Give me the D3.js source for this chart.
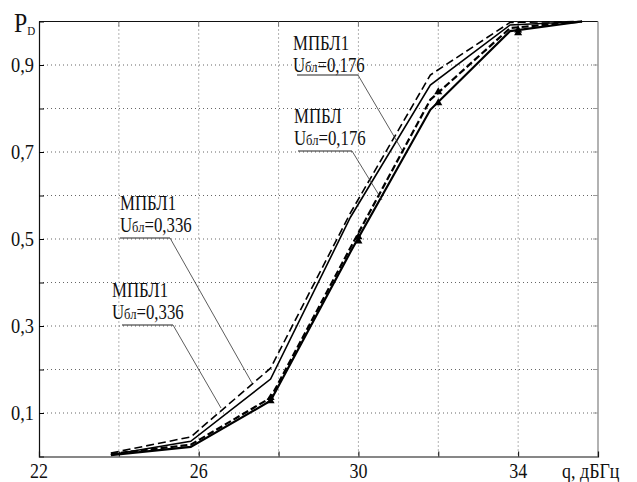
<!DOCTYPE html>
<html>
<head>
<meta charset="utf-8">
<script src="https://cdn.jsdelivr.net/npm/d3@7"></script>
<style>
  html, body { margin: 0; padding: 0; background: #fff; }
</style>
</head>
<body>
<svg id="chart" width="637" height="482"></svg>
<script>
// Signal-to-noise values, dB·Hz
const q = [23.8, 25.8, 27.8, 29.8, 31.8, 33.8, 35.6];
// Detection probability P_D for each variant
const pUpperDashed = [0.008, 0.045, 0.203, 0.56, 0.877, 0.998, 1.0];
const pUpperSolid  = [0.004, 0.035, 0.178, 0.55, 0.854, 0.992, 1.0];
const pLowerDashed = [0.006, 0.027, 0.135, 0.48, 0.82, 0.985, 1.0];
const pLowerSolid  = [0.003, 0.022, 0.128, 0.47, 0.797, 0.978, 1.0];
// Marked points on the lower pair of curves
const qMarks = [27.8, 30, 32, 34];
const markLowerDashed = [0.135, 0.505, 0.838, 0.98];
const markLowerSolid  = [0.128, 0.495, 0.813, 0.974];

const xTickLabels = [22, 26, 30, 34];
const xGrid = [24, 26, 28, 30, 32, 34];
const yTickLabels = ["0,1", "0,3", "0,5", "0,7", "0,9"];
const yTickValues = [0.1, 0.3, 0.5, 0.7, 0.9];
const yGrid = [0.1, 0.2, 0.3, 0.4, 0.5, 0.6, 0.7, 0.8, 0.9];

const FONT = "'Liberation Serif', Tinos, 'Times New Roman', 'DejaVu Serif', serif";

const svg = d3.select("#chart");
const x = d3.scaleLinear().domain([22, 36]).range([39, 598]);
const y = d3.scaleLinear().domain([0, 1]).range([456.5, 21.5]);

// grid
const grid = svg.append("g");
grid.selectAll(".gx").data(xGrid).join("line")
  .attr("x1", d => x(d)).attr("x2", d => x(d))
  .attr("y1", y(1)).attr("y2", y(0))
  .attr("stroke", "#666").attr("stroke-width", 1).attr("stroke-dasharray", "1,3");
grid.selectAll(".gy").data(yGrid).join("line")
  .attr("x1", x(22)).attr("x2", x(36))
  .attr("y1", d => y(d)).attr("y2", d => y(d))
  .attr("stroke", "#666").attr("stroke-width", 1).attr("stroke-dasharray", "1,3");

// frame
svg.append("line").attr("x1", x(22)).attr("x2", x(36)).attr("y1", y(1)).attr("y2", y(1)).attr("stroke", "#111").attr("stroke-width", 1.2);
svg.append("line").attr("x1", x(36)).attr("x2", x(36)).attr("y1", y(1)).attr("y2", y(0)).attr("stroke", "#999").attr("stroke-width", 1.5);
svg.append("g").selectAll("line").data(xGrid).join("line")
  .attr("x1", d => x(d)).attr("x2", d => x(d)).attr("y1", y(1)).attr("y2", y(1) + 5)
  .attr("stroke", "#777");
svg.append("g").selectAll("line").data(yGrid).join("line")
  .attr("x1", x(36) - 5).attr("x2", x(36)).attr("y1", d => y(d)).attr("y2", d => y(d))
  .attr("stroke", "#999");

// axes
const xAxis = d3.axisBottom(x).tickValues(xGrid).tickSize(-5).tickFormat("");
svg.append("g").attr("transform", `translate(0,${y(0)})`).call(xAxis)
  .call(g => g.select(".domain").attr("stroke", "#111").attr("stroke-width", 1.2));
const yAxis = d3.axisLeft(y).tickValues(yGrid).tickSize(-5).tickFormat("");
svg.append("g").attr("transform", `translate(${x(22)},0)`).call(yAxis)
  .call(g => g.select(".domain").attr("stroke", "#111").attr("stroke-width", 1.2));

// condensed serif text placed at (px, py)
function label(parent, px, py, size, sx, anchor) {
  return parent.append("text")
    .attr("transform", `translate(${px},${py}) scale(${sx},1)`)
    .attr("font-family", FONT).attr("fill", "#111")
    .attr("font-size", size).attr("text-anchor", anchor || "start");
}

xTickLabels.forEach(d => label(svg, x(d), 478, 20, 0.9, "middle").text(d));
yTickValues.forEach((d, i) => label(svg, 34, y(d) + 7, 20, 0.92, "end").text(yTickLabels[i]));
label(svg, 562, 478, 20, 0.9).text("q, дБГц");
const pd = label(svg, 14, 32, 28, 0.85);
pd.append("tspan").text("P");
pd.append("tspan").attr("font-size", 13).attr("dy", 3).text("D");

// curves
const line = d3.line().x(d => x(d[0])).y(d => y(d[1]));
const series = [
  { p: pUpperDashed, dash: "8,4", w: 1.6 },
  { p: pUpperSolid, dash: null, w: 1.6 },
  { p: pLowerDashed, dash: "7,3", w: 2.2 },
  { p: pLowerSolid, dash: null, w: 2.2 }
];
series.forEach(s => {
  svg.append("path").datum(q.map((v, i) => [v, s.p[i]]))
    .attr("d", line).attr("fill", "none").attr("stroke", "#000")
    .attr("stroke-width", s.w).attr("stroke-dasharray", s.dash);
});
const tri = d3.symbol().type(d3.symbolTriangle).size(28);
[markLowerDashed, markLowerSolid].forEach(p => {
  svg.append("g").selectAll("path").data(qMarks.map((v, i) => [v, p[i]])).join("path")
    .attr("d", tri).attr("transform", d => `translate(${x(d[0])},${y(d[1])})`).attr("fill", "#000");
});

// annotations
function note(tx, ty, name, value, ul, leader) {
  const g = svg.append("g");
  label(g, tx, ty, 20, 0.84).text(name);
  const t = label(g, tx, ty + 22, 20, 0.84);
  t.append("tspan").text("U");
  t.append("tspan").attr("font-size", 15).text("бл");
  t.append("tspan").text("=" + value);
  g.append("line").attr("x1", ul[0]).attr("x2", ul[1]).attr("y1", ul[2]).attr("y2", ul[2])
    .attr("stroke", "#222").attr("stroke-width", 1);
  g.append("line").attr("x1", ul[1]).attr("y1", ul[2]).attr("x2", leader[0]).attr("y2", leader[1])
    .attr("stroke", "#333").attr("stroke-width", 0.8);
}
note(293, 50, "МПБЛ1", "0,176", [297, 358, 75], [402, 150]);
note(294, 123, "МПБЛ", "0,176", [298, 352, 151], [382, 200]);
note(120, 210, "МПБЛ1", "0,336", [120, 170, 238], [252, 383]);
note(112, 297, "МПБЛ1", "0,336", [122, 173, 325], [221, 408]);
</script>
</body>
</html>
